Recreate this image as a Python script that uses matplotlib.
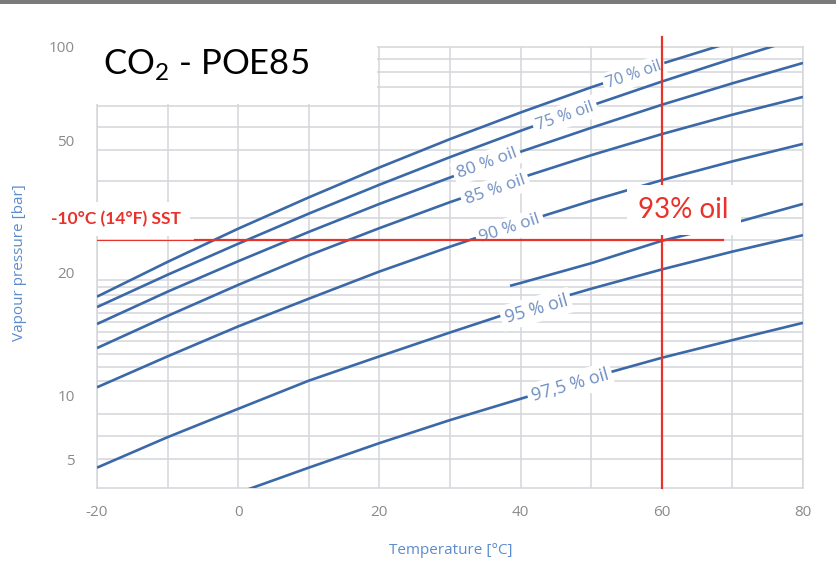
import numpy as np
import matplotlib.pyplot as plt
from matplotlib.patches import Rectangle
from matplotlib.ticker import NullFormatter

plt.rcParams['font.family'] = ['Open Sans', 'DejaVu Sans']
plt.rcParams['axes.unicode_minus'] = False

# Curve data: temperature [°C] -> vapour pressure [bar]
temps = [-20, -10, 0, 10, 20, 30, 40, 50, 60, 70, 80]
p_70 = [17.5, 21.6, 27.2, 33.8, 41.6, 50.7, 61.7, 74.3, 88.4, 103.9]
p_75 = [16.5, 19.8, 24.5, 30.2, 36.9, 44.7, 53.9, 64.9, 77.5, 91.7, 107.6]
p_80 = [15.0, 18.0, 21.7, 26.6, 32.3, 38.8, 46.4, 55.1, 65.3, 76.5, 88.9]
p_85 = [13.1, 15.7, 18.7, 22.6, 27.3, 32.7, 38.7, 45.3, 52.6, 60.7, 69.2]
p_90 = [10.5, 12.5, 14.8, 17.3, 20.2, 24.0, 28.3, 33.0, 38.1, 43.4, 49.0]
p_95 = [4.6, 6.4, 8.7, 10.9, 12.5, 14.3, 16.3, 18.3, 20.5, 23.2, 26.0]
temps_93 = [38.5, 40, 50, 60, 70, 80]
p_93 = [18.6, 18.9, 21.4, 25.0, 28.2, 32.3]
temps_975 = [0, 10, 20, 30, 40, 50, 60, 70, 80]
p_975 = [3.5, 4.6, 6.0, 7.7, 9.7, 11.1, 12.4, 13.7, 15.1]

curve_labels = ['70 % oil', '75 % oil', '80 % oil', '85 % oil', '90 % oil', '95 % oil', '97,5 % oil']

# operating point: -10°C suction (saturation pressure) and 60°C
sst_pressure = 25.2
op_temp = 60

x_ticks = [-20, 0, 20, 40, 60, 80]
y_ticks = [5, 10, 20, 50, 100]
y_grid = [5.05, 6.5, 8.2, 10.0, 10.9, 11.8, 12.7, 13.6, 14.3, 15.2, 16.0, 16.8, 17.7,
          18.5, 19.2, 20.0, 25.2, 29.3, 37.9, 47.0, 55.4, 64.7, 74.5, 83.2, 91.5]

# the printed axis is not a clean log scale: calibrate it on the labelled ticks
cal_p = [1, 5, 10, 20, 50, 100, 1000]
cal_h = [-120.6, 28, 92, 215, 347, 441, 753.3]


def fwd(p):
    p = np.clip(np.asarray(p, dtype=float), 1e-6, None)
    return np.interp(np.log10(p), np.log10(cal_p), cal_h)


def inv(h):
    return 10 ** np.interp(h, cal_h, np.log10(cal_p))


blue = '#3b69a8'
lbl_blue = '#6f8fc2'
red = '#e8322a'
grid_c = '#d5d6da'
tick_c = '#8a8a8a'

fig = plt.figure(figsize=(8.37, 5.72), dpi=100)
fig.add_artist(Rectangle((0, 1 - 4 / 572), 1, 4 / 572, transform=fig.transFigure,
                         color='#7b7b7b', lw=0))
ax = fig.add_axes([97 / 837, 84 / 572, 706 / 837, 441 / 572])
ax.set_yscale('function', functions=(fwd, inv))
ax.set_xlim(-20, 80)
ax.set_ylim(3.69, 100)

ax.set_xticks(x_ticks)
ax.set_xticks(range(-20, 81, 10), minor=True)
ax.set_yticks(y_ticks)
ax.set_yticklabels([str(v) for v in y_ticks])
ax.set_yticks(y_grid, minor=True)
ax.yaxis.set_minor_formatter(NullFormatter())
ax.tick_params(which='both', length=0, colors=tick_c, labelsize=11)
ax.tick_params(axis='x', pad=12)
ax.tick_params(axis='y', pad=16)
ax.grid(True, axis='x', which='both', color=grid_c, lw=1.1)
ax.grid(True, axis='y', which='minor', color=grid_c, lw=1.1)
for s in ax.spines.values():
    s.set_color(grid_c)
    s.set_linewidth(1.1)

# white patch behind the title (hides the top-left part of the grid)
ax.add_patch(Rectangle((-20.4, 65.8), 40.1, 45, facecolor='white', edgecolor='none',
                       zorder=2.6, clip_on=False))

series = [(temps, p_70), (temps, p_75), (temps, p_80), (temps, p_85), (temps, p_90),
          (temps_93, p_93), (temps, p_95), (temps_975, p_975)]
for t, p in series:
    ax.plot(t[:len(p)], p, color=blue, lw=1.9, zorder=3, solid_capstyle='butt')

# inline labels on the curves
lbl_t = [56.1, 46.3, 35.2, 36.4, 38.5, 42.2, 47.0]
lbl_p = [81.4, 60.1, 42.9, 35.6, 27.15, 16.3, 10.6]
lbl_rot = [19, 19, 20, 19, 18, 16, 16]
lbl_size = [11.5, 12, 12.5, 12.5, 12.5, 13, 13]
for txt, t, p, r, fs in zip(curve_labels, lbl_t, lbl_p, lbl_rot, lbl_size):
    ax.text(t, p, txt, rotation=r, rotation_mode='anchor', ha='center', va='center',
            color=lbl_blue, fontsize=fs, zorder=4,
            bbox=dict(boxstyle='square,pad=0.22', fc='white', ec='none'))

# red operating-point lines
ax.plot([op_temp, op_temp], [3.69, 107.6], color=red, lw=1.6, zorder=5, clip_on=False)
ax.plot([-20, -6.1], [sst_pressure] * 2, color=red, lw=0.8, zorder=5)
ax.plot([-6.1, 68.7], [sst_pressure] * 2, color=red, lw=1.6, zorder=5)

ax.text(63.1, 30.97, '93% oil', color=red, fontsize=20, family=['Lato', 'DejaVu Sans'],
        ha='center', va='center', zorder=6,
        bbox=dict(boxstyle='square,pad=0.42', fc='white', ec='none'))
ax.text(-17.3, 29.1, '-10°C (14°F) SST', color=red, fontsize=12.5, fontweight='bold',
        family=['Lato', 'DejaVu Sans'], ha='center', va='center', zorder=6, clip_on=False,
        bbox=dict(boxstyle='square,pad=0.5', fc='white', ec='none'))

fig.text(103 / 837, 1 - 74 / 572, r'CO$_\mathregular{2}$ - POE85', fontsize=25,
         family=['Lato', 'DejaVu Sans'], va='baseline', ha='left', color='black')
fig.text(451 / 837, 1 - 551 / 572, 'Temperature [°C]', ha='center', va='center',
         fontsize=11, color='#5b8cce')
fig.text(20 / 837, 1 - 263 / 572, 'Vapour pressure [bar]', ha='center', va='center',
         rotation=90, fontsize=11, color='#5b8cce')

fig.savefig('out.png', dpi=100)
